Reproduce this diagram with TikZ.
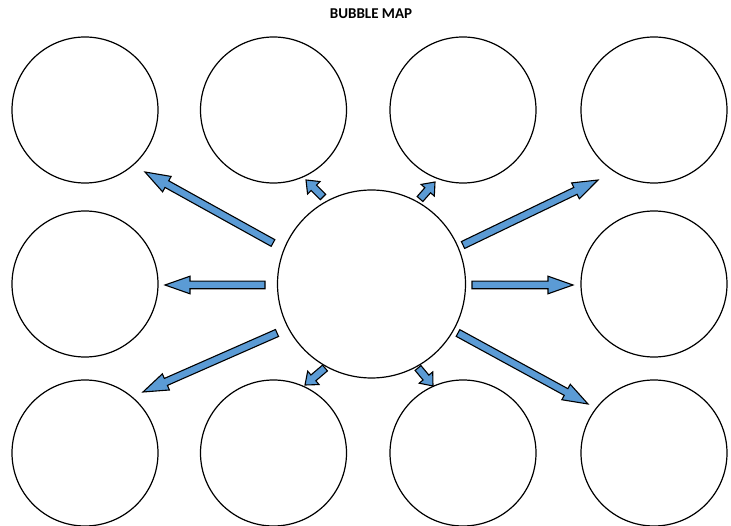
\documentclass[tikz,border=0pt]{standalone}
\usepackage{fontspec}
\setmainfont{Carlito}
\usetikzlibrary{calc}
\definecolor{arrowblue}{RGB}{91,155,213}
\tikzset{
  bubble/.style={draw=black, line width=1.2pt, circle, inner sep=0pt, minimum size=146pt},
  hub/.style={draw=black, line width=1.2pt, circle, inner sep=0pt, minimum size=188pt},
  blockarrow/.style={draw=black, line width=1.1pt, fill=arrowblue, line join=miter},
  title/.style={font=\bfseries\fontsize{15}{17}\selectfont, inner sep=0pt}
}
\newcommand\barrow[3]{%
  \path let \p1=(#1), \p2=(#2),
    \n1={atan2(\y2-\y1,\x2-\x1)}, \n2={veclen(\x2-\x1,\y2-\y1)} in
    \pgfextra{\xdef\bang{\n1}\xdef\blen{\n2}};
  \begin{scope}[shift={(#1)}, rotate=\bang]
    \draw[blockarrow] (0,-3.8) -- ({\blen-#3},-3.8) -- ({\blen-#3},-8.8) -- (\blen,0)
      -- ({\blen-#3},8.8) -- ({\blen-#3},3.8) -- (0,3.8) -- cycle;
  \end{scope}}
\begin{document}
\begin{tikzpicture}[x=1pt,y=-1pt]
\useasboundingbox (0,0) rectangle (731,526);
\node[title] (t) at (371,14) {BUBBLE MAP};
\node[hub] (c) at (371.5,284) {};
\node[bubble] (b1) at (85,110) {};
\node[bubble] (b2) at (273.5,110) {};
\node[bubble] (b3) at (463,110) {};
\node[bubble] (b4) at (654,110) {};
\node[bubble] (b5) at (85,284) {};
\node[bubble] (b6) at (654,284) {};
\node[bubble] (b7) at (85,453) {};
\node[bubble] (b8) at (273.5,453) {};
\node[bubble] (b9) at (463,453) {};
\node[bubble] (b10) at (654,453) {};
% arrow tails and tips
\coordinate (s1) at (273,243); \coordinate (e1) at (145,172);
\coordinate (s2) at (265,285); \coordinate (e2) at (165,285);
\coordinate (s3) at (277,333); \coordinate (e3) at (143,392);
\coordinate (s4) at (323,197); \coordinate (e4) at (306,180);
\coordinate (s5) at (420,199); \coordinate (e5) at (435,182);
\coordinate (s6) at (463,245); \coordinate (e6) at (598,180);
\coordinate (s7) at (472,285); \coordinate (e7) at (573,285);
\coordinate (s8) at (458,333); \coordinate (e8) at (588,404);
\coordinate (s9) at (325,368); \coordinate (e9) at (305,385);
\coordinate (s10) at (418,368); \coordinate (e10) at (433,386);
\barrow{s1}{e1}{25}
\barrow{s2}{e2}{25}
\barrow{s3}{e3}{25}
\barrow{s4}{e4}{11}
\barrow{s5}{e5}{11}
\barrow{s6}{e6}{25}
\barrow{s7}{e7}{25}
\barrow{s8}{e8}{25}
\barrow{s9}{e9}{11}
\barrow{s10}{e10}{11}
\end{tikzpicture}
\end{document}
